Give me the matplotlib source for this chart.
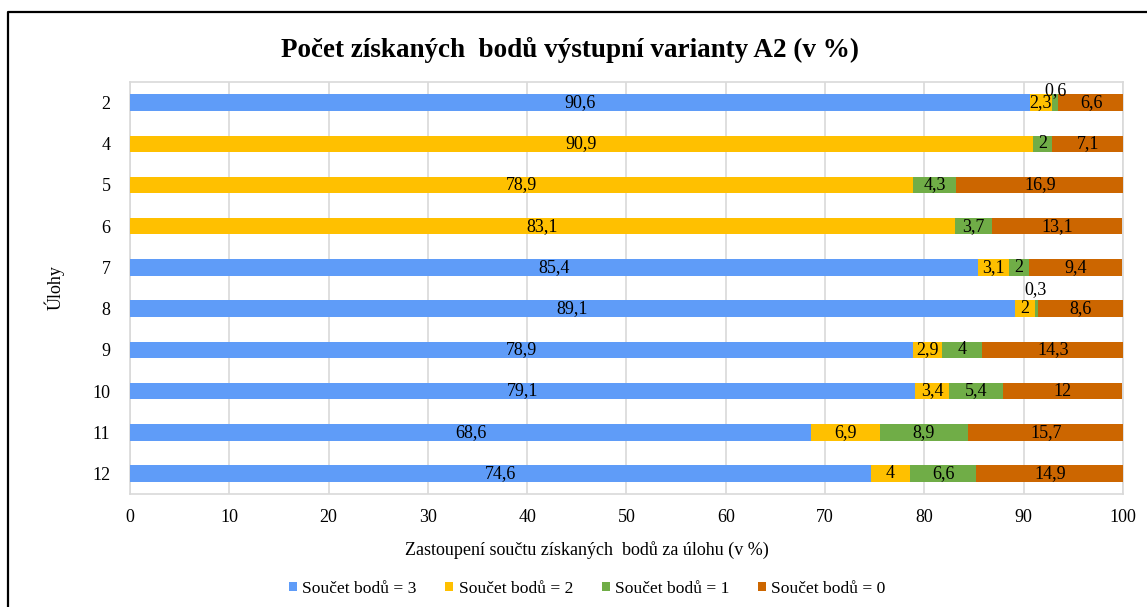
import numpy as np
import matplotlib.pyplot as plt
from matplotlib.lines import Line2D

plt.rcParams['font.family'] = ['Liberation Serif', 'DejaVu Serif']

ulohy = ['2', '4', '5', '6', '7', '8', '9', '10', '11', '12']
body3 = [90.6, 0, 0, 0, 85.4, 89.1, 78.9, 79.1, 68.6, 74.6]
body2 = [2.3, 90.9, 78.9, 83.1, 3.1, 2, 2.9, 3.4, 6.9, 4]
body1 = [0.6, 2, 4.3, 3.7, 2, 0.3, 4, 5.4, 8.9, 6.6]
body0 = [6.6, 7.1, 16.9, 13.1, 9.4, 8.6, 14.3, 12, 15.7, 14.9]

series = [body3, body2, body1, body0]
names = ['Součet bodů = 3', 'Součet bodů = 2', 'Součet bodů = 1', 'Součet bodů = 0']
colors = ['#5F9CF8', '#FFC000', '#70AD47', '#CC6600']

fig = plt.figure(figsize=(11.47, 6.07), dpi=100)
ax = fig.add_axes([0.1133, 0.186, 0.8657, 0.679])

y = np.arange(len(ulohy))
left = np.zeros(len(ulohy))
for vals, name, c in zip(series, names, colors):
    vals = np.array(vals, dtype=float)
    ax.barh(y, vals, left=left, height=0.4, color=c, label=name, zorder=3)
    for i, v in enumerate(vals):
        if v == 0:
            continue
        s = ('%g' % v).replace('.', ',')
        xc = left[i] + v / 2
        if v < 1:
            # small values sit above the bar
            dy = -0.3 if i == 0 else -0.45
            ax.text(xc, i + dy, s, ha='center', va='center', fontsize=13, zorder=5)
        else:
            ax.text(xc, i, s, ha='center', va='center', fontsize=13, zorder=5)
    left += vals

ax.set_xlim(0, 100)
ax.set_ylim(len(ulohy) - 0.5, -0.5)
ax.set_xticks(np.arange(0, 101, 10))
ax.set_yticks(y)
ax.set_yticklabels(ulohy)
ax.tick_params(length=0, labelsize=13)
ax.tick_params(axis='y', pad=14)
ax.tick_params(axis='x', pad=11)
ax.grid(axis='x', color='#D9D9D9', linewidth=1.2, zorder=0)
for sp in ax.spines.values():
    sp.set_color('#D9D9D9')
    sp.set_linewidth(1.2)

ax.set_xlabel('Zastoupení součtu získaných  bodů za úlohu (v %)', fontsize=13,
              va='center')
ax.xaxis.set_label_coords(0.46, -0.135)
ax.set_ylabel('Úlohy', fontsize=13, labelpad=20)

fig.text(0.497, 0.918, 'Počet získaných  bodů výstupní varianty A2 (v %)',
         ha='center', va='center', fontsize=19.5, fontweight='bold')

ax.legend(loc='center', bbox_to_anchor=(0.4607, -0.23), ncol=4, frameon=False,
          fontsize=12.6, handlelength=0.45, handleheight=0.45, handletextpad=0.3,
          columnspacing=1.65)

fig.add_artist(Line2D([0.007, 0.007, 1.0], [0.0, 0.980, 0.980],
                      transform=fig.transFigure, color='black', linewidth=1.6))

fig.savefig('out.png', dpi=100)
